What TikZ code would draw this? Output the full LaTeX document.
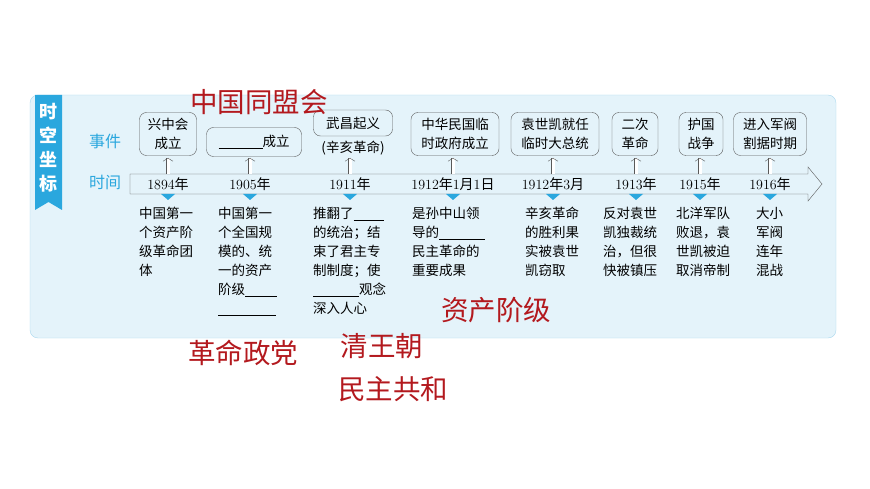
\documentclass[tikz,border=0pt]{standalone}
\usepackage{fontspec}
\usetikzlibrary{arrows.meta}
\newfontfamily\cjk{Noto Sans CJK SC}
\definecolor{panelbg}{HTML}{E4F3FA}
\definecolor{panelln}{HTML}{A9D8EE}
\definecolor{tagblue}{HTML}{2AA7DE}
\definecolor{ansred}{HTML}{B3191E}
\newcommand{\blank}[1]{\rule[-2pt]{#1}{0.5pt}}
\newcommand{\nian}{{\cjk 年}}
\tikzset{
  evbox/.style={draw=gray!70!black,rounded corners=7pt,fill=panelbg,align=center,
    font=\cjk\fontsize{13.5}{19}\selectfont,inner sep=3pt},
  desc/.style={anchor=north west,align=left,inner sep=0pt,
    font=\cjk\fontsize{13.5}{19}\selectfont},
  yr/.style={font=\fontsize{14}{14}\selectfont,inner sep=1pt},
  ans/.style={text=ansred,font=\cjk\fontsize{27.5}{30}\selectfont},
  up/.style={double,double distance=3pt,gray!70!black,-{Straight Barb[length=3pt,width=10pt]}}
}
\begin{document}
\begin{tikzpicture}[x=1pt,y=-1pt]
  \useasboundingbox (0,0) rectangle (870,489);
  % panel
  \draw[panelln,fill=panelbg,rounded corners=8pt] (30,95) rectangle (836,338);
  \fill[tagblue] (35,95) -- (62,95) -- (62,210) -- (48.5,202) -- (35,210) -- cycle;
  \node[text=white,align=center,font=\cjk\bfseries\fontsize{18}{24}\selectfont] (tag) at (48.5,148) {时\\空\\坐\\标};
  \node[text=tagblue,font=\cjk\fontsize{16}{16}\selectfont] (shijian) at (105,141) {事件};
  \node[text=tagblue,font=\cjk\fontsize{16}{16}\selectfont] (shijian2) at (105,182) {时间};
  % time bar
  \draw[gray!70!black,fill=panelbg] (130,174) -- (808,174) -- (808,167) -- (822,184)
    -- (808,201) -- (808,194) -- (130,194) -- cycle;
  \foreach \x/\name/\lab in {168/y1/1894\nian,250/y2/1905\nian,350/y3/1911\nian,
      453/y4/1912\nian 1{\cjk 月}1{\cjk 日},553/y5/1912\nian 3{\cjk 月},636/y6/1913\nian,
      700/y7/1915\nian,770/y8/1916\nian}{
    \node[yr] (\name) at (\x,184) {\lab};
    \fill[tagblue] (\x-7,194) -- (\x+7,194) -- (\x,200) -- cycle;
  }
  % events
  \node[evbox,minimum width=57pt,minimum height=43pt] (e1) at (168,134) {兴中会\\成立};
  \node[evbox,minimum width=95pt,minimum height=29pt] (e2) at (254,142) {\blank{44pt}成立};
  \node[evbox,minimum width=79pt,minimum height=26pt] (e3) at (353,123) {武昌起义};
  \node[font=\cjk\fontsize{13.5}{14}\selectfont] (e3b) at (353,148) {(辛亥革命)};
  \node[evbox,minimum width=88pt,minimum height=43pt] (e4) at (455,134) {中华民国临\\时政府成立};
  \node[evbox,minimum width=88pt,minimum height=43pt] (e5) at (555,134) {袁世凯就任\\临时大总统};
  \node[evbox,minimum width=46pt,minimum height=43pt] (e6) at (635,134) {二次\\革命};
  \node[evbox,minimum width=44pt,minimum height=43pt] (e7) at (701,134) {护国\\战争};
  \node[evbox,minimum width=73pt,minimum height=43pt] (e8) at (770,134) {进入军阀\\割据时期};
  \foreach \i in {1,...,8}{
    \draw[up] (y\i.north |- 174,174) -- (y\i.north |- 158,158);
  }
  % descriptions
  \node[desc] (d1) at (139,207) {中国第一\\个资产阶\\级革命团\\体};
  \node[desc] (d2) at (218,207) {中国第一\\个全国规\\模的、统\\一的资产\\阶级\blank{32pt}\\\blank{58pt}};
  \node[desc] (d3) at (313,207) {推翻了\blank{30pt}\\的统治；结\\束了君主专\\制制度；使\\\blank{46pt}观念\\深入人心};
  \node[desc] (d4) at (412,207) {是孙中山领\\导的\blank{46pt}\\民主革命的\\重要成果};
  \node[desc] (d5) at (525,207) {辛亥革命\\的胜利果\\实被袁世\\凯窃取};
  \node[desc] (d6) at (603,207) {反对袁世\\凯独裁统\\治，但很\\快被镇压};
  \node[desc] (d7) at (676,207) {北洋军队\\败退，袁\\世凯被迫\\取消帝制};
  \node[desc] (d8) at (756,207) {大小\\军阀\\连年\\混战};
  % answers
  \node[ans] (a1) at (259,102) {中国同盟会};
  \node[ans] (a2) at (496,310) {资产阶级};
  \node[ans] (a3) at (243,353) {革命政党};
  \node[ans] (a4) at (382,346) {清王朝};
  \node[ans] (a5) at (393,389) {民主共和};
\end{tikzpicture}
\end{document}
